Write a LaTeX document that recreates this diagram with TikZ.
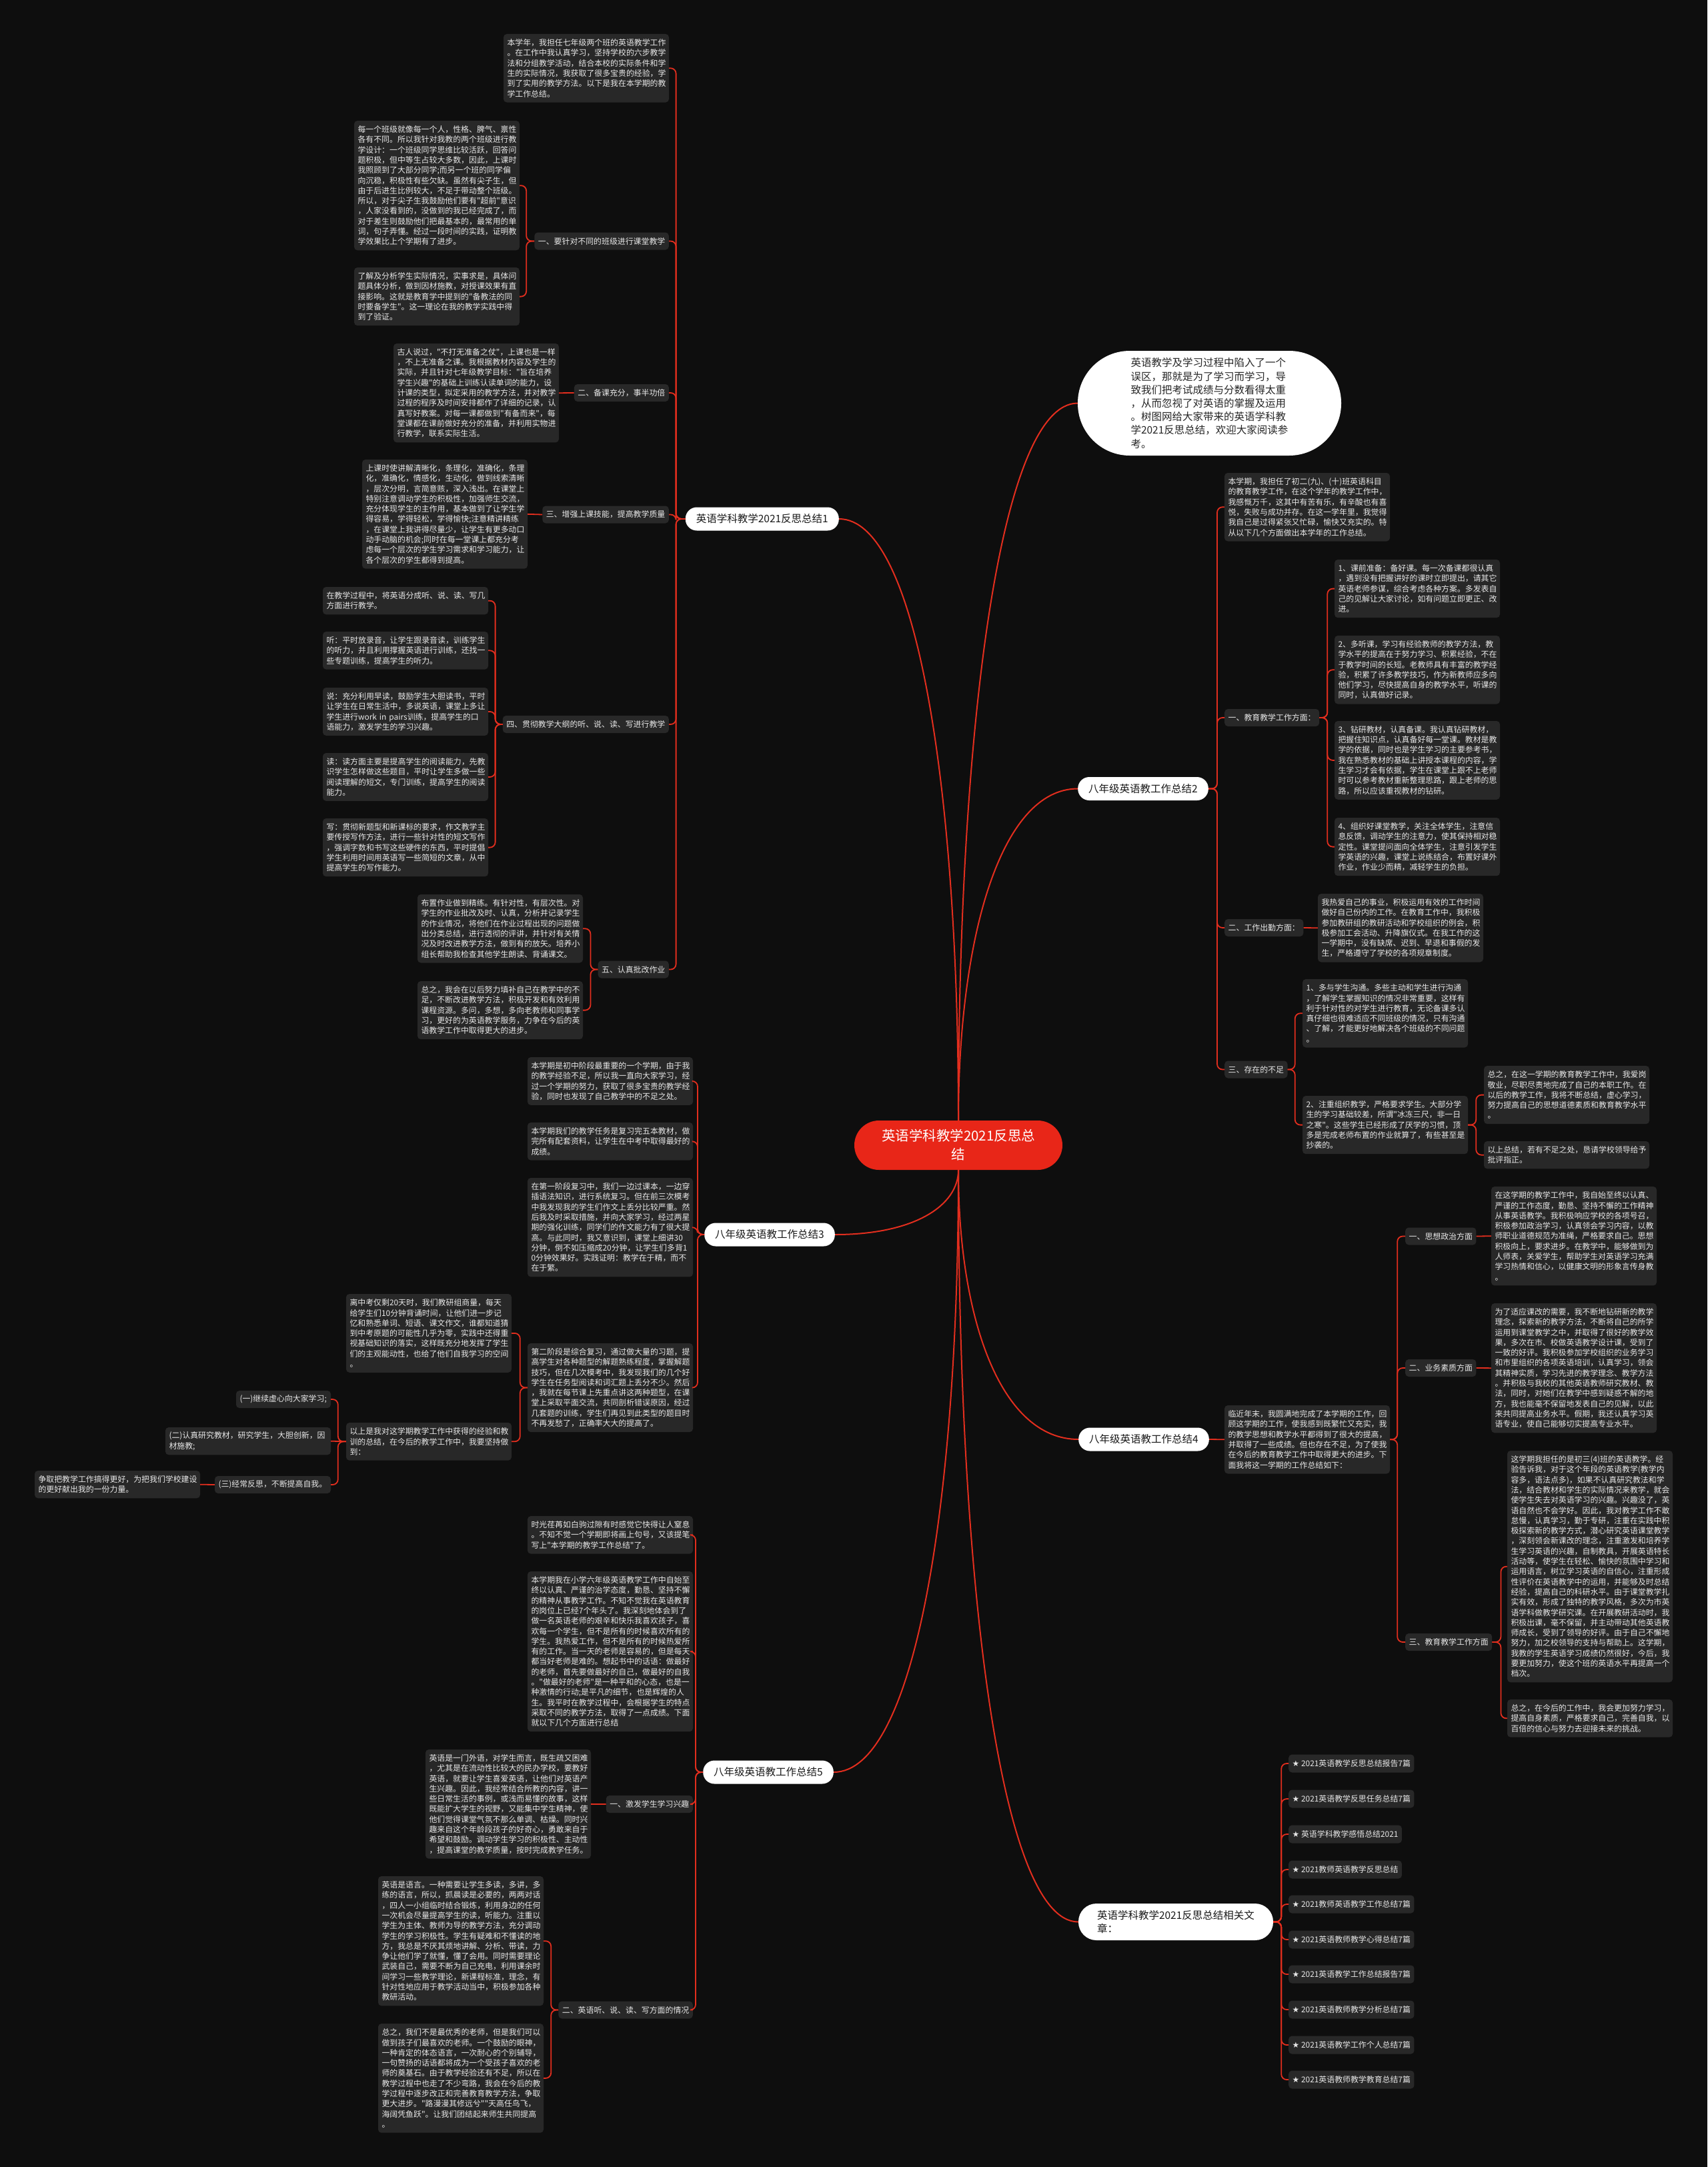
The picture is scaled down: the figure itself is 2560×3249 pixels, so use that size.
\documentclass[tikz,border=0pt]{standalone}
\usepackage{fontspec}
\newfontfamily\cjk{Noto Sans CJK SC}
\newfontfamily\sym{DejaVu Sans}
\definecolor{bg}{RGB}{14,14,14}
\definecolor{boxc}{RGB}{40,40,40}
\definecolor{txt}{RGB}{232,232,232}
\definecolor{lred}{RGB}{226,46,30}
\definecolor{cred}{RGB}{232,38,24}
\tikzset{
 leaf/.style={fill=boxc, rounded corners=5pt, text=txt, font=\cjk\fontsize{11.9}{15.3}\selectfont, align=left, inner xsep=5.5pt, inner ysep=3pt},
 sub/.style={leaf, minimum height=26pt},
 pill/.style={fill=white, text=black!90, font=\cjk\fontsize{15.5}{19.6}\selectfont, inner xsep=16pt, minimum height=35pt, rounded corners=17pt},
 conn/.style={draw=lred, line width=1.8pt, rounded corners=8pt},
 mainconn/.style={draw=lred, line width=2pt},
}
\newcommand\bx[6]{%
  \pgfmathsetmacro\myh{(#5-1)*15.3+26}%
  \pgfmathsetmacro\mycx{#2+#4/2}%
  \pgfmathsetmacro\mycy{#3+\myh/2}%
  \pgfmathsetmacro\mytw{#4-11}%
  \node[leaf, minimum width=#4pt, minimum height=\myh pt, text width=\mytw pt] (#1) at (\mycx,\mycy) {#6};%
}
\newcommand\lconn[3]{\draw[conn] (#1.west) -- ++(-#3,0) |- (#2.east);}
\newcommand\rconn[3]{\draw[conn] (#1.east) -- ++(#3,0) |- (#2.west);}
\begin{document}
\begin{tikzpicture}[x=1pt,y=-1pt]
\fill[bg] (0,0) rectangle (2560,3249);
\useasboundingbox (0,0) rectangle (2560,3249);

% ---------- center ----------
\node[fill=cred, rounded corners=37pt, minimum width=312pt, minimum height=74pt, text width=250pt, align=center, text=white, font=\cjk\fontsize{20.5}{28}\selectfont] (c) at (1437,1717) {英语学科教学2021反思总\\结};

% ---------- level 1 ----------
\node[pill, anchor=east] (n1) at (1258,778) {英语学科教学2021反思总结1};
\node[pill, anchor=west] (n2) at (1616,1182.5) {八年级英语教工作总结2};
\node[pill, anchor=east] (n3) at (1252,1851) {八年级英语教工作总结3};
\node[pill, anchor=west] (n4) at (1617,2158) {八年级英语教工作总结4};
\node[pill, anchor=east] (n5) at (1250,2657) {八年级英语教工作总结5};
\node[fill=white, rounded corners=78pt, minimum width=395pt, minimum height=157pt, text width=236pt, align=left, text=black!85, font=\cjk\fontsize{15.5}{20.2}\selectfont] (intro) at (1813.5,604.5) {英语教学及学习过程中陷入了一个\\误区，那就是为了学习而学习，导\\致我们把考试成绩与分数看得太重\\，从而忽视了对英语的掌握及运用\\。树图网给大家带来的英语学科教\\学2021反思总结，欢迎大家阅读参\\考。};
\node[fill=white, rounded corners=27pt, minimum width=292pt, minimum height=55pt, text width=236pt, align=left, text=black!90, font=\cjk\fontsize{15.5}{19.6}\selectfont] (rel) at (1763,2881.5) {英语学科教学2021反思总结相关文\\章：};

% ---------- branch 1 ----------
\bx{b1a}{755}{51}{248}{6}{本学年，我担任七年级两个班的英语教学工作\\。在工作中我认真学习，坚持学校的六步教学\\法和分组教学活动，结合本校的实际条件和学\\生的实际情况，我获取了很多宝贵的经验，学\\到了实用的教学方法。以下是我在本学期的教\\学工作总结。}
\node[sub, anchor=east] (s11) at (1003,361.5) {一、要针对不同的班级进行课堂教学};
\bx{l11a}{531}{181}{248}{12}{每一个班级就像每一个人，性格、脾气、禀性\\各有不同。所以我针对我教的两个班级进行教\\学设计：一个班级同学思维比较活跃，回答问\\题积极，但中等生占较大多数，因此，上课时\\我照顾到了大部分同学;而另一个班的同学偏\\向沉稳，积极性有些欠缺。虽然有尖子生，但\\由于后进生比例较大，不足于带动整个班级。\\所以，对于尖子生我鼓励他们要有"超前"意识\\，人家没看到的，没做到的我已经完成了，而\\对于差生则鼓励他们把最基本的，最常用的单\\词，句子弄懂。经过一段时间的实践，证明教\\学效果比上个学期有了进步。}
\bx{l11b}{531}{401}{248}{5}{了解及分析学生实际情况，实事求是，具体问\\题具体分析，做到因材施教，对授课效果有直\\接影响。这就是教育学中提到的"备教法的同\\时要备学生"。这一理论在我的教学实践中得\\到了验证。}
\node[sub, anchor=east] (s12) at (1003,589) {二、备课充分，事半功倍};
\bx{l12}{590}{515}{248}{9}{古人说过，"不打无准备之仗"，上课也是一样\\，不上无准备之课。我根据教材内容及学生的\\实际，并且针对七年级教学目标："旨在培养\\学生兴趣"的基础上训练认读单词的能力，设\\计课的类型，拟定采用的教学方法，并对教学\\过程的程序及时间安排都作了详细的记录，认\\真写好教案。对每一课都做到"有备而来"，每\\堂课都在课前做好充分的准备，并利用实物进\\行教学，联系实际生活。}
\node[sub, anchor=east] (s13) at (1003,771.5) {三、增强上课技能，提高教学质量};
\bx{l13}{543}{689}{248}{10}{上课时使讲解清晰化，条理化，准确化，条理\\化，准确化，情感化，生动化，做到线索清晰\\，层次分明，言简意赅，深入浅出。在课堂上\\特别注意调动学生的积极性，加强师生交流，\\充分体现学生的主作用，基本做到了让学生学\\得容易，学得轻松，学得愉快;注意精讲精练\\，在课堂上我讲得尽量少，让学生有更多动口\\动手动脑的机会;同时在每一堂课上都充分考\\虑每一个层次的学生学习需求和学习能力，让\\各个层次的学生都得到提高。}
\node[sub, anchor=east] (s14) at (1003,1086) {四、贯彻教学大纲的听、说、读、写进行教学};
\bx{l14a}{484}{880}{248}{2}{在教学过程中，将英语分成听、说、读、写几\\方面进行教学。}
\bx{l14b}{484}{947}{248}{3}{听：平时放录音，让学生跟录音读，训练学生\\的听力，并且利用撑握英语进行训练，还找一\\些专题训练，提高学生的听力。}
\bx{l14c}{484}{1031}{248}{4}{说：充分利用早读，鼓励学生大胆读书，平时\\让学生在日常生活中，多说英语，课堂上多让\\学生进行work in pairs训练，提高学生的口\\语能力，激发学生的学习兴趣。}
\bx{l14d}{484}{1129}{248}{4}{读：读方面主要是提高学生的阅读能力，先教\\识学生怎样做这些题目，平时让学生多做一些\\阅读理解的短文，专门训练，提高学生的阅读\\能力。}
\bx{l14e}{484}{1227}{248}{5}{写：贯彻新题型和新课标的要求，作文教学主\\要传授写作方法，进行一些针对性的短文写作\\，强调字数和书写这些硬件的东西，平时提倡\\学生利用时间用英语写一些简短的文章，从中\\提高学生的写作能力。}
\node[sub, anchor=east] (s15) at (1003,1453.5) {五、认真批改作业};
\bx{l15a}{626}{1341}{248}{6}{布置作业做到精练。有针对性，有层次性。对\\学生的作业批改及时、认真，分析并记录学生\\的作业情况，将他们在作业过程出现的问题做\\出分类总结，进行透彻的评讲，并针对有关情\\况及时改进教学方法，做到有的放矢。培养小\\组长帮助我检查其他学生朗读、背诵课文。}
\bx{l15b}{626}{1471}{248}{5}{总之，我会在以后努力填补自己在教学中的不\\足，不断改进教学方法，积极开发和有效利用\\课程资源。多问，多想，多向老教师和同事学\\习，更好的为英语教学服务，力争在今后的英\\语教学工作中取得更大的进步。}

% ---------- branch 3 ----------
\bx{l3a}{791}{1585}{248}{4}{本学期是初中阶段最重要的一个学期，由于我\\的教学经验不足，所以我一直向大家学习，经\\过一个学期的努力，获取了很多宝贵的教学经\\验，同时也发现了自己教学中的不足之处。}
\bx{l3b}{791}{1683}{248}{3}{本学期我们的教学任务是复习完五本教材，做\\完所有配套资料，让学生在中考中取得最好的\\成绩。}
\bx{l3c}{791}{1766}{248}{9}{在第一阶段复习中，我们一边过课本，一边穿\\插语法知识，进行系统复习。但在前三次模考\\中我发现我的学生们作文上丢分比较严重。然\\后我及时采取措施，并向大家学习，经过两星\\期的强化训练，同学们的作文能力有了很大提\\高。与此同时，我又意识到，课堂上细讲30\\分钟，倒不如压缩成20分钟，让学生们多背1\\0分钟效果好。实践证明：教学在于精，而不\\在于繁。}
\bx{l3d}{791}{2014}{248}{8}{第二阶段是综合复习，通过做大量的习题，提\\高学生对各种题型的解题熟练程度，掌握解题\\技巧，但在几次模考中，我发现我们的几个好\\学生在任务型阅读和词汇题上丢分不少。然后\\，我就在每节课上先重点讲这两种题型，在课\\堂上采取平面交流，共同剖析错误原因，经过\\几套题的训练，学生们再见到此类型的题目时\\不再发愁了，正确率大大的提高了。}
\bx{l3e}{519}{1940}{248}{7}{离中考仅剩20天时，我们教研组商量，每天\\给学生们10分钟背诵时间，让他们进一步记\\忆和熟悉单词、短语、课文作文，谁都知道猜\\到中考原题的可能性几乎为零，实践中还得重\\视基础知识的落实，这样既充分地发挥了学生\\们的主观能动性，也给了他们自我学习的空间\\。}
\bx{l3f}{519}{2133}{248}{3}{以上是我对这学期教学工作中获得的经验和教\\训的总结，在今后的教学工作中，我要坚持做\\到：}
\bx{i1}{354}{2085}{142}{1}{(一)继续虚心向大家学习;}
\bx{i2}{248}{2140}{248}{2}{(二)认真研究教材，研究学生，大胆创新，因\\材施教;}
\bx{i3}{322}{2213}{174}{1}{(三)经常反思，不断提高自我。}
\bx{i4}{52}{2205}{248}{2}{争取把教学工作搞得更好，为把我们学校建设\\的更好献出我的一份力量。}

% ---------- branch 5 ----------
\bx{l5a}{791}{2273}{248}{3}{时光荏苒如白驹过隙有时感觉它快得让人窒息\\。不知不觉一个学期即将画上句号，又该提笔\\写上"本学期的教学工作总结"了。}
\bx{l5b}{791}{2356}{248}{15}{本学期我在小学六年级英语教学工作中自始至\\终以认真、严谨的治学态度，勤恳、坚持不懈\\的精神从事教学工作。不知不觉我在英语教育\\的岗位上已经7个年头了。我深刻地体会到了\\做一名英语老师的艰辛和快乐我喜欢孩子，喜\\欢每一个学生，但不是所有的时候喜欢所有的\\学生。我热爱工作，但不是所有的时候热爱所\\有的工作。当一天的老师是容易的，但是每天\\都当好老师是难的。想起书中的话语：做最好\\的老师，首先要做最好的自己，做最好的自我\\。"做最好的老师"是一种平和的心态，也是一\\种激情的行动;是平凡的细节，也是辉煌的人\\生。我平时在教学过程中，会根据学生的特点\\采取不同的教学方法，取得了一点成绩。下面\\就以下几个方面进行总结}
\node[sub, anchor=east] (s51) at (1039,2705) {一、激发学生学习兴趣};
\bx{l51}{638}{2623}{248}{10}{英语是一门外语，对学生而言，既生疏又困难\\，尤其是在流动性比较大的民办学校，要教好\\英语，就要让学生喜爱英语，让他们对英语产\\生兴趣。因此，我经常结合所教的内容，讲一\\些日常生活的事例，或浅而易懂的故事，这样\\既能扩大学生的视野，又能集中学生精神，使\\他们觉得课堂气氛不那么单调、枯燥。同时兴\\趣来自这个年龄段孩子的好奇心，勇敢来自于\\希望和鼓励。调动学生学习的积极性、主动性\\，提高课堂的教学质量，按时完成教学任务。}
\node[sub, anchor=east] (s52) at (1039,3013.5) {二、英语听、说、读、写方面的情况};
\bx{l52a}{567}{2813}{248}{12}{英语是语言。一种需要让学生多读，多讲，多\\练的语言，所以，抓晨读是必要的，两两对话\\，四人一小组临时结合锻炼，利用身边的任何\\一次机会尽量提高学生的读，听能力。注重以\\学生为主体、教师为导的教学方法，充分调动\\学生的学习积极性。学生有疑难和不懂读的地\\方，我总是不厌其烦地讲解、分析、带读，力\\争让他们学了就懂，懂了会用。同时需要理论\\武装自己，需要不断为自己充电，利用课余时\\间学习一些教学理论，新课程标准，理念，有\\针对性地应用于教学活动当中，积极参加各种\\教研活动。}
\bx{l52b}{567}{3034}{248}{10}{总之，我们不是最优秀的老师，但是我们可以\\做到孩子们最喜欢的老师。一个鼓励的眼神，\\一种肯定的体态语言，一次耐心的个别辅导，\\一句赞扬的话语都将成为一个受孩子喜欢的老\\师的奠基石。由于教学经验还有不足，所以在\\教学过程中也走了不少弯路，我会在今后的教\\学过程中逐步改正和完善教育教学方法，争取\\更大进步。"路漫漫其修远兮""天高任鸟飞，\\海阔凭鱼跃"。让我们团结起来师生共同提高\\。}

% ---------- branch 2 ----------
\bx{l2a}{1836}{709}{248}{6}{本学期，我担任了初二(九)、(十)班英语科目\\的教育教学工作，在这个学年的教学工作中，\\我感慨万千，这其中有苦有乐，有辛酸也有喜\\悦，失败与成功并存。在这一学年里，我觉得\\我自己是过得紧张又忙碌，愉快又充实的。特\\从以下几个方面做出本学年的工作总结。}
\node[sub, anchor=west] (s21) at (1836,1076) {一、教育教学工作方面：};
\bx{l21a}{2001}{839}{248}{5}{1、课前准备：备好课。每一次备课都很认真\\，遇到没有把握讲好的课时立即提出，请其它\\英语老师参谋，综合考虑各种方案。多发表自\\己的见解让大家讨论，如有问题立即更正、改\\进。}
\bx{l21b}{2001}{953}{248}{6}{2、多听课，学习有经验教师的教学方法，教\\学水平的提高在于努力学习、积累经验，不在\\于教学时间的长短。老教师具有丰富的教学经\\验，积累了许多教学技巧，作为新教师应多向\\他们学习，尽快提高自身的教学水平，听课的\\同时，认真做好记录。}
\bx{l21c}{2001}{1081}{248}{7}{3、钻研教材，认真备课。我认真钻研教材，\\把握住知识点，认真备好每一堂课。教材是教\\学的依据，同时也是学生学习的主要参考书，\\我在熟悉教材的基础上讲授本课程的内容，学\\生学习才会有依据，学生在课堂上跟不上老师\\时可以参考教材重新整理思路，跟上老师的思\\路，所以应该重视教材的钻研。}
\bx{l21d}{2001}{1226}{248}{5}{4、组织好课堂教学，关注全体学生，注意信\\息反馈，调动学生的注意力，使其保持相对稳\\定性。课堂提问面向全体学生，注意引发学生\\学英语的兴趣，课堂上说练结合，布置好课外\\作业，作业少而精，减轻学生的负担。}
\node[sub, anchor=west] (s22) at (1836,1391) {二、工作出勤方面：};
\bx{l22}{1976}{1340}{248}{6}{我热爱自己的事业，积极运用有效的工作时间\\做好自己份内的工作。在教育工作中，我积极\\参加教研组的教研活动和学校组织的例会，积\\极参加工会活动、升降旗仪式。在我工作的这\\一学期中，没有缺席、迟到、早退和事假的发\\生，严格遵守了学校的各项规章制度。}
\node[sub, anchor=west] (s23) at (1836,1603.5) {三、存在的不足};
\bx{l23a}{1953}{1468}{248}{6}{1、多与学生沟通。多些主动和学生进行沟通\\，了解学生掌握知识的情况非常重要，这样有\\利于针对性的对学生进行教育，无论备课多认\\真仔细也很难适应不同班级的情况，只有沟通\\、了解，才能更好地解决各个班级的不同问题\\。}
\bx{l23b}{1953}{1643}{248}{5}{2、注重组织教学，严格要求学生。大部分学\\生的学习基础较差，所谓"冰冻三尺，非一日\\之寒"。这些学生已经形成了厌学的习惯，顶\\多是完成老师布置的作业就算了，有些甚至是\\抄袭的。}
\bx{l23c}{2225}{1598}{248}{5}{总之，在这一学期的教育教学工作中，我爱岗\\敬业，尽职尽责地完成了自己的本职工作。在\\以后的教学工作，我将不断总结，虚心学习，\\努力提高自己的思想道德素质和教育教学水平\\。}
\bx{l23d}{2225}{1711}{248}{2}{以上总结，若有不足之处，恳请学校领导给予\\批评指正。}

% ---------- branch 4 ----------
\bx{l4}{1836}{2107}{248}{6}{临近年末，我圆满地完成了本学期的工作，回\\顾这学期的工作，使我感到既繁忙又充实，我\\的教学思想和教学水平都得到了很大的提高，\\并取得了一些成绩。但也存在不足，为了使我\\在今后的教育教学工作中取得更大的进步。下\\面我将这一学期的工作总结如下：}
\node[sub, anchor=west] (s41) at (2107,1853.5) {一、思想政治方面};
\bx{l41}{2236}{1779}{248}{9}{在这学期的教学工作中，我自始至终以认真、\\严谨的工作态度，勤恳、坚持不懈的工作精神\\从事英语教学。我积极响应学校的各项号召，\\积极参加政治学习，认真领会学习内容，以教\\师职业道德规范为准绳，严格要求自己。思想\\积极向上，要求进步。在教学中，能够做到为\\人师表，关爱学生，帮助学生对英语学习充满\\学习热情和信心，以健康文明的形象言传身教\\。}
\node[sub, anchor=west] (s42) at (2107,2051) {二、业务素质方面};
\bx{l42}{2236}{1954}{248}{12}{为了适应课改的需要，我不断地钻研新的教学\\理念，探索新的教学方法，不断将自己的所学\\运用到课堂教学之中，并取得了很好的教学效\\果，多次在市、校做英语教学设计课，受到了\\一致的好评。我积极参加学校组织的业务学习\\和市里组织的各项英语培训，认真学习，领会\\其精神实质，学习先进的教学理念、教学方法\\。并积极与我校的其他英语教师研究教材、教\\法，同时，对她们在教学中感到疑惑不解的地\\方，我也能毫不保留地发表自己的见解，以此\\来共同提高业务水平。假期，我还认真学习英\\语专业，使自己能够切实提高专业水平。}
\node[sub, anchor=west] (s43) at (2107,2462) {三、教育教学工作方面};
\bx{l43a}{2260}{2175}{248}{22}{这学期我担任的是初三(4)班的英语教学。经\\验告诉我，对于这个年段的英语教学(教学内\\容多，语法点多)，如果不认真研究教法和学\\法，结合教材和学生的实际情况来教学，就会\\使学生失去对英语学习的兴趣。兴趣没了，英\\语自然也不会学好。因此，我对教学工作不敢\\怠慢，认真学习，勤于专研，注重在实践中积\\极探索新的教学方式，潜心研究英语课堂教学\\，深刻领会新课改的理念，注重激发和培养学\\生学习英语的兴趣，自制教具，开展英语特长\\活动等，使学生在轻松、愉快的氛围中学习和\\运用语言，树立学习英语的自信心，注重形成\\性评价在英语教学中的运用，并能够及时总结\\经验，提高自己的科研水平。由于课堂教学扎\\实有效，形成了独特的教学风格，多次为市英\\语学科做教学研究课。在开展教研活动时，我\\积极出课，毫不保留，并主动带动其他英语教\\师成长，受到了领导的好评。由于自己不懈地\\努力，加之校领导的支持与帮助上。这学期，\\我教的学生英语学习成绩仍然很好，今后，我\\要更加努力，使这个班的英语水平再提高一个\\档次。}
\bx{l43b}{2260}{2548}{248}{3}{总之，在今后的工作中，我会更加努力学习，\\提高自身素质，严格要求自己，完善自我，以\\百倍的信心与努力去迎接未来的挑战。}

% ---------- related ----------
\node[sub, anchor=west, minimum height=27pt] (r1) at (1932,2644) {{\sym ★} 2021英语教学反思总结报告7篇};
\node[sub, anchor=west, minimum height=27pt] (r2) at (1932,2697) {{\sym ★} 2021英语教学反思任务总结7篇};
\node[sub, anchor=west, minimum height=27pt] (r3) at (1932,2750) {{\sym ★} 英语学科教学感悟总结2021};
\node[sub, anchor=west, minimum height=27pt] (r4) at (1932,2803) {{\sym ★} 2021教师英语教学反思总结};
\node[sub, anchor=west, minimum height=27pt] (r5) at (1932,2855) {{\sym ★} 2021教师英语教学工作总结7篇};
\node[sub, anchor=west, minimum height=27pt] (r6) at (1932,2908) {{\sym ★} 2021英语教师教学心得总结7篇};
\node[sub, anchor=west, minimum height=27pt] (r7) at (1932,2960) {{\sym ★} 2021英语教学工作总结报告7篇};
\node[sub, anchor=west, minimum height=27pt] (r8) at (1932,3013) {{\sym ★} 2021英语教师教学分析总结7篇};
\node[sub, anchor=west, minimum height=27pt] (r9) at (1932,3066) {{\sym ★} 2021英语教学工作个人总结7篇};
\node[sub, anchor=west, minimum height=27pt] (r10) at (1932,3118) {{\sym ★} 2021英语教师教学教育总结7篇};

% ---------- main connectors ----------
\draw[mainconn] (c.north) .. controls (1437,1185) and (1375,778) .. (n1.east);
\draw[mainconn] (c.north) .. controls (1437,1088) and (1500,604.5) .. (intro.west);
\draw[mainconn] (c.north) .. controls (1437,1407) and (1500,1182.5) .. (n2.west);
\draw[mainconn] (c.south) .. controls (1437,1807) and (1372,1851) .. (n3.east);
\draw[mainconn] (c.south) .. controls (1437,2251) and (1372,2657) .. (n5.east);
\draw[mainconn] (c.south) .. controls (1437,1976) and (1500,2158) .. (n4.west);
\draw[mainconn] (c.south) .. controls (1437,2374) and (1500,2881.5) .. (rel.west);

% ---------- branch connectors ----------
\foreach \t in {b1a,s11,s12,s13,s14,s15} {\lconn{n1}{\t}{14}}
\foreach \t in {l11a,l11b} {\lconn{s11}{\t}{12}}
\draw[conn] (s12.west) -- (l12.east);
\draw[conn] (s13.west) -- (l13.east);
\foreach \t in {l14a,l14b,l14c,l14d,l14e} {\lconn{s14}{\t}{11}}
\foreach \t in {l15a,l15b} {\lconn{s15}{\t}{11}}

\foreach \t in {l3a,l3b,l3c,l3d} {\lconn{n3}{\t}{10}}
\foreach \t in {l3e,l3f} {\lconn{l3d}{\t}{11}}
\foreach \t in {i1,i3} {\lconn{l3f}{\t}{12}}
\draw[conn] (l3f.west) -- (i2.east);
\draw[conn] (i3.west) -- (i4.east);

\foreach \t in {l5a,l5b,s51,s52} {\lconn{n5}{\t}{11}}
\draw[conn] (s51.west) -- (l51.east);
\foreach \t in {l52a,l52b} {\lconn{s52}{\t}{11}}

\foreach \t in {l2a,s21,s22,s23} {\rconn{n2}{\t}{13}}
\foreach \t in {l21a,l21b,l21c,l21d} {\rconn{s21}{\t}{12}}
\draw[conn] (s22.east) -- (l22.west);
\foreach \t in {l23a,l23b} {\rconn{s23}{\t}{11}}
\foreach \t in {l23c,l23d} {\rconn{l23b}{\t}{12}}

\draw[conn] (n4.east) -- (l4.west);
\foreach \t in {s41,s42,s43} {\rconn{l4}{\t}{11}}
\draw[conn] (s41.east) -- (l41.west);
\draw[conn] (s42.east) -- (l42.west);
\foreach \t in {l43a,l43b} {\rconn{s43}{\t}{13}}

\foreach \t in {r1,r2,r3,r4,r5,r6,r7,r8,r9,r10} {\rconn{rel}{\t}{12}}
\end{tikzpicture}
\end{document}
